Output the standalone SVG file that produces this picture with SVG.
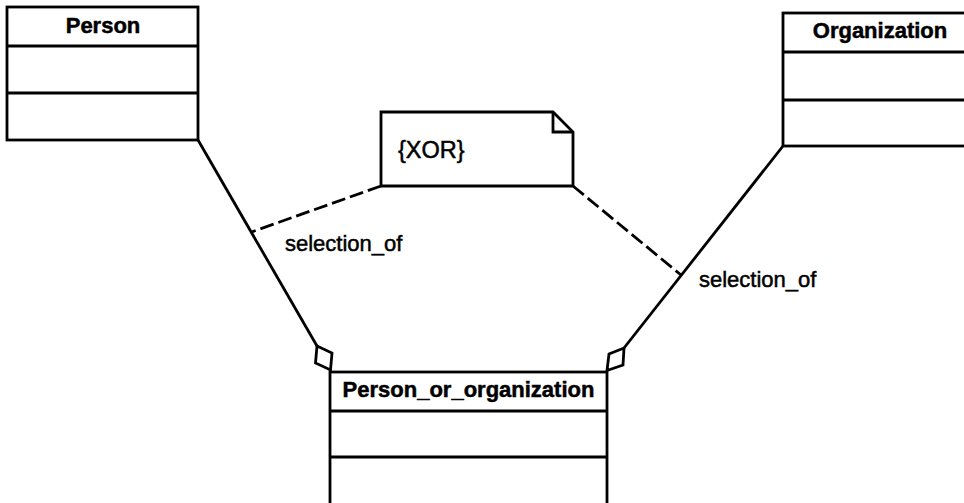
<svg xmlns="http://www.w3.org/2000/svg" width="964" height="503" viewBox="0 0 964 503">
<style>
.box{fill:#fff;stroke:#000;stroke-width:2.8}
.sep{stroke:#000;stroke-width:2.8}
.title{font-family:"Liberation Sans",Arial,sans-serif;font-weight:bold;font-size:22px;text-anchor:middle;fill:#000;stroke:#000;stroke-width:0.5}
.lbl{font-family:"Liberation Sans",Arial,sans-serif;font-size:22px;fill:#000;stroke:#000;stroke-width:0.5}
.assoc{stroke:#000;stroke-width:2.8;fill:none}
.dash{stroke:#000;stroke-width:2.8;fill:none;stroke-dasharray:14 5}
.dia{fill:#fff;stroke:#000;stroke-width:2.8;stroke-linejoin:miter}
</style>
<rect width="964" height="503" fill="#fff"/>
<g id="connectors">
<line class="assoc" x1="198" y1="140" x2="317" y2="346"/>
<line class="assoc" x1="783" y1="146" x2="624" y2="348"/>
<polygon class="dia" points="317,346 332,353 330.5,370 315.5,363"/>
<polygon class="dia" points="624,348 623,365 607,370.5 609,354"/>
<line class="dash" x1="381" y1="186" x2="251.5" y2="232"/>
<line class="dash" x1="573" y1="186" x2="681" y2="275"/>
<text class="lbl" x="285" y="251">selection_of</text>
<text class="lbl" x="699" y="287">selection_of</text>
</g>
<g id="person">
<rect class="box" x="7" y="7" width="191" height="133"/>
<line class="sep" x1="7" y1="46" x2="198" y2="46"/>
<line class="sep" x1="7" y1="93" x2="198" y2="93"/>
<text class="title" x="103" y="33">Person</text>
</g>
<g id="organization">
<rect class="box" x="783" y="13" width="194" height="133"/>
<line class="sep" x1="783" y1="52" x2="977" y2="52"/>
<line class="sep" x1="783" y1="100" x2="977" y2="100"/>
<text class="title" x="880" y="38">Organization</text>
</g>
<g id="person_or_organization">
<rect class="box" x="330" y="372" width="277" height="150"/>
<line class="sep" x1="330" y1="411" x2="607" y2="411"/>
<line class="sep" x1="330" y1="457" x2="607" y2="457"/>
<text class="title" x="468.5" y="397">Person_or_organization</text>
</g>
<g id="xor_note">
<path class="box" d="M381,112 L553,112 L573,132 L573,186 L381,186 Z"/>
<path class="assoc" d="M553,112 L553,132 L573,132"/>
<text class="lbl" x="398" y="158" style="font-size:23.5px">{XOR}</text>
</g>
</svg>
